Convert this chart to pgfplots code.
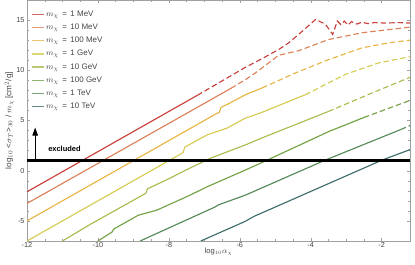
\documentclass[border=0pt]{standalone}
\usepackage{pgfplots}
\pgfplotsset{compat=1.18}
\usepackage{fontspec}
\setmainfont{Liberation Sans}
\usetikzlibrary{arrows.meta}
\definecolor{c1}{HTML}{C9403B}
\definecolor{c2}{HTML}{DD8258}
\definecolor{c3}{HTML}{E8B545}
\definecolor{c4}{HTML}{D6CB52}
\definecolor{c5}{HTML}{A9BD4F}
\definecolor{c6}{HTML}{74A244}
\definecolor{c7}{HTML}{558B58}
\definecolor{c8}{HTML}{3D6E6C}
\definecolor{fr}{HTML}{A0A0A0}
\definecolor{tl}{HTML}{444444}
\begin{document}
\begin{tikzpicture}
\begin{axis}[
  scale only axis,
  width=383bp, height=241bp,
  xmin=-12, xmax=-1.2, ymin=-7, ymax=17,
  xtick={-12,-10,-8,-6,-4,-2},
  ytick={-5,0,5,10,15},
  minor x tick num=3, minor y tick num=4,
  tick align=inside,
  major tick length=3bp, minor tick length=1.6bp,
  axis line style={draw=fr, line width=0.5pt},
  every tick/.style={draw=fr, line width=0.4pt},
  /pgf/number format/assume math mode=true,
  ticklabel style={font=\fontsize{7.3}{8}\selectfont, text=tl},
  xticklabel style={yshift=2.5bp},
  yticklabel style={xshift=1bp},
  label style={text=tl},
  xlabel={log$_{10}\alpha_\chi$},
  ylabel={log$_{10}$ <$\sigma_T$>$_{30}$ / $m_\chi$ [cm$^2$/g]},
  xlabel style={font=\fontsize{7.6}{9}\selectfont, yshift=5.5bp},
  ylabel style={font=\fontsize{8.2}{9}\selectfont, yshift=-4bp},
  legend style={draw=none, fill=none, at={(0.012,0.962)}, anchor=north west,
    font=\fontsize{8}{9}\selectfont, text=tl, row sep=3.2bp, inner sep=0pt,
    nodes={inner sep=1bp, text height=6bp, text depth=2bp}},
  legend cell align=left,
  legend image code/.code={\draw[#1, line width=1.4pt, draw opacity=0.8] (0bp,0bp) -- (12bp,0bp);},
  clip=true,
]
% solid parts (legend)
\addplot[c1, line width=1.15pt] coordinates {(-12,-2.1) (-7.2,7.5)};
\addlegendentry{$m_\chi$\, = \,1 MeV}
\addplot[c2, line width=1.15pt] coordinates {(-12,-3.26) (-6.25,8.2)};
\addlegendentry{$m_\chi$\, = \,10 MeV}
\addplot[c3, line width=1.15pt] coordinates {(-12,-5) (-6.65,5.7) (-6.58,5.8) (-6.53,6.3) (-6.3,6.7) (-5.84,7.57) (-5.37,8.24)};
\addlegendentry{$m_\chi$\, = \,100 MeV}
\addplot[c4, line width=1.15pt] coordinates {(-12,-7) (-7.6,1.8) (-7.55,2.35) (-6.92,3.57) (-6.36,4.24) (-5.84,5.24) (-5.42,5.75) (-4.15,7.57)};
\addlegendentry{$m_\chi$\, = \,1 GeV}
\addplot[c5, line width=1.15pt] coordinates {(-11,-7) (-10.22,-5.35) (-8.65,-2.25) (-8.6,-1.8) (-8.0,-0.8) (-7.5,0.1) (-6.83,1.24) (-5.84,2.57) (-5.42,3.2) (-3.5,5.9)};
\addlegendentry{$m_\chi$\, = \,10 GeV}
\addplot[c6, line width=1.15pt] coordinates {(-10.0,-7) (-9.6,-6.1) (-9.55,-5.8) (-8.86,-4.43) (-8.34,-3.93) (-7.4,-2.43) (-6.92,-1.6) (-5.84,0.07) (-5.42,0.74) (-3.49,3.9) (-2.5,5.3)};
\addlegendentry{$m_\chi$\, = \,100 GeV}
\addplot[c7, line width=1.15pt] coordinates {(-8.81,-7) (-6.69,-3.6) (-6.6,-3.4) (-5.84,-2.43) (-3.58,1.07) (-1.46,4.1)};
\addlegendentry{$m_\chi$\, = \,1 TeV}
\addplot[c8, line width=1.15pt] coordinates {(-7.1,-7) (-5.85,-5.05) (-5.7,-4.75) (-5.6,-4.55) (-1.98,1.07) (-1.2,2.1)};
\addlegendentry{$m_\chi$\, = \,10 TeV}
% dashed parts
\addplot[c1, line width=1.15pt, dash pattern=on 5.5bp off 3bp, forget plot] coordinates {(-7.2,7.5) (-5.84,10.3) (-5.42,11.07) (-4.9,12.07) (-4.62,12.74) (-4.34,13.57) (-3.86,15.07) (-3.58,14.57) (-3.38,13.57) (-3.25,14.9) (-3.15,14.55) (-3.05,14.9) (-2.95,14.5) (-2.85,14.85) (-2.7,14.6) (-2.55,14.8) (-2.4,14.65) (-2.2,14.75) (-1.9,14.7) (-1.5,14.75) (-1.2,14.7)};
\addplot[c2, line width=1.15pt, dash pattern=on 5.5bp off 3bp, forget plot] coordinates {(-6.25,8.2) (-5.84,9.07) (-5.56,9.74) (-4.9,11.5) (-4.34,11.95) (-3.49,13.07) (-2.55,13.74) (-1.2,14.3)};
\addplot[c3, line width=1.15pt, dash pattern=on 5.5bp off 3bp, forget plot] coordinates {(-5.37,8.24) (-4.43,9.74) (-3.49,11.07) (-2.55,12.24) (-1.79,12.74) (-1.2,13.0)};
\addplot[c4, line width=1.15pt, dash pattern=on 5.5bp off 3bp, forget plot] coordinates {(-4.15,7.57) (-3.02,9.6) (-2.08,10.74) (-1.2,11.35)};
\addplot[c5, line width=1.15pt, dash pattern=on 5.5bp off 3bp, forget plot] coordinates {(-3.5,5.9) (-2.3,7.7) (-1.2,9.3)};
\addplot[c6, line width=1.15pt, dash pattern=on 5.5bp off 3bp, forget plot] coordinates {(-2.5,5.3) (-1.2,7.0)};
\addplot[c7, line width=1.15pt, dash pattern=on 5.5bp off 3bp, forget plot] coordinates {(-1.46,4.1) (-1.2,4.5)};
% excluded line
\addplot[black, line width=2.6pt, forget plot] coordinates {(-12,1) (-1.2,1)};
\addplot[black, line width=1pt, -{Triangle[length=8bp,width=5.5bp]}, forget plot] coordinates {(-11.77,1) (-11.77,4.3)};
\node[font=\bfseries\fontsize{7.5}{8}\selectfont, anchor=west] at (axis cs:-11.5,2.2) {excluded};
\end{axis}
\pgfresetboundingbox
\path ([shift={(-27bp,-24bp)}]current axis.south west) rectangle ([shift={(5bp,0bp)}]current axis.north east);
\end{tikzpicture}
\end{document}
